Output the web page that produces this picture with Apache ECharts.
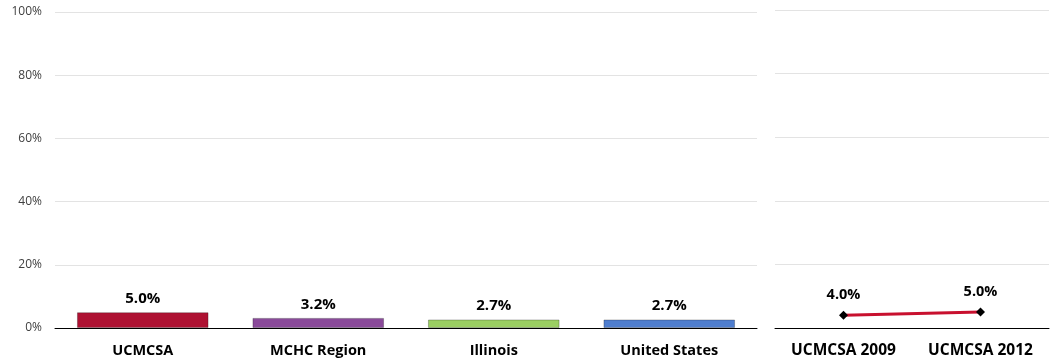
<!DOCTYPE html>
<html><head><meta charset="utf-8">
<script src="https://cdn.jsdelivr.net/npm/echarts@6/dist/echarts.min.js"></script>
<style>html,body{margin:0;padding:0;background:#fff}#c{width:1053px;height:360px}</style>
</head><body><div id="c"></div>
<script>
const barCategories = ['UCMCSA', 'MCHC Region', 'Illinois', 'United States'];
const barValues = [5.0, 3.2, 2.7, 2.7];
const barColors = ['#AE1132', '#8A4A9A', '#9BCF62', '#4F7ECF'];
const lineCategories = ['UCMCSA 2009', 'UCMCSA 2012'];
const lineValues = [4.0, 5.0];
const yTicks = [0, 20, 40, 60, 80, 100];

const font = '"Open Sans", "Noto Sans", sans-serif';
const chart = echarts.init(document.getElementById('c'), null, {renderer: 'canvas'});
const yBase = {
  type: 'value', min: 0, max: 100, interval: 20,
  axisLine: {show: false}, axisTick: {show: false},
  splitLine: {lineStyle: {color: '#e3e3e3', width: 1}}
};
chart.setOption({
  animation: false,
  textStyle: {fontFamily: font},
  grid: [
    {left: 55, right: 296, top: 12, bottom: 32},
    {left: 775, right: 4, top: 10, bottom: 32}
  ],
  xAxis: [
    {type: 'category', gridIndex: 0, data: barCategories,
     axisLine: {lineStyle: {color: '#000', width: 1}}, axisTick: {show: false},
     axisLabel: {color: '#000', fontWeight: 'bold', fontSize: 14.5, margin: 15, fontFamily: font}},
    {type: 'category', gridIndex: 1, data: lineCategories,
     axisLine: {lineStyle: {color: '#000', width: 1}}, axisTick: {show: false},
     axisLabel: {color: '#000', fontWeight: 'bold', fontSize: 15.5, margin: 15, fontFamily: font}}
  ],
  yAxis: [
    Object.assign({gridIndex: 0, axisLabel: {color: '#404040', fontSize: 12, margin: 13, fontFamily: font,
      formatter: v => yTicks.includes(v) ? v + '%' : ''}}, yBase),
    Object.assign({gridIndex: 1, axisLabel: {show: false}}, yBase)
  ],
  series: [
    {type: 'bar', xAxisIndex: 0, yAxisIndex: 0, barWidth: '75%',
     data: barValues.map((v, i) => ({value: v, itemStyle: {color: barColors[i]}})),
     itemStyle: {borderColor: 'rgba(0,0,0,0.25)', borderWidth: 1},
     label: {show: true, position: 'top', distance: 6, color: '#000', fontWeight: 'bold', fontSize: 15,
       fontFamily: font, formatter: p => p.value.toFixed(1) + '%'}},
    {type: 'line', xAxisIndex: 1, yAxisIndex: 1, data: lineValues,
     lineStyle: {color: '#C8102E', width: 3},
     symbol: 'diamond', symbolSize: 9, itemStyle: {color: '#000'},
     label: {show: true, position: 'top', distance: 8, color: '#000', fontWeight: 'bold', fontSize: 14.5,
       fontFamily: font, formatter: p => p.value.toFixed(1) + '%'}}
  ]
});
</script></body></html>
